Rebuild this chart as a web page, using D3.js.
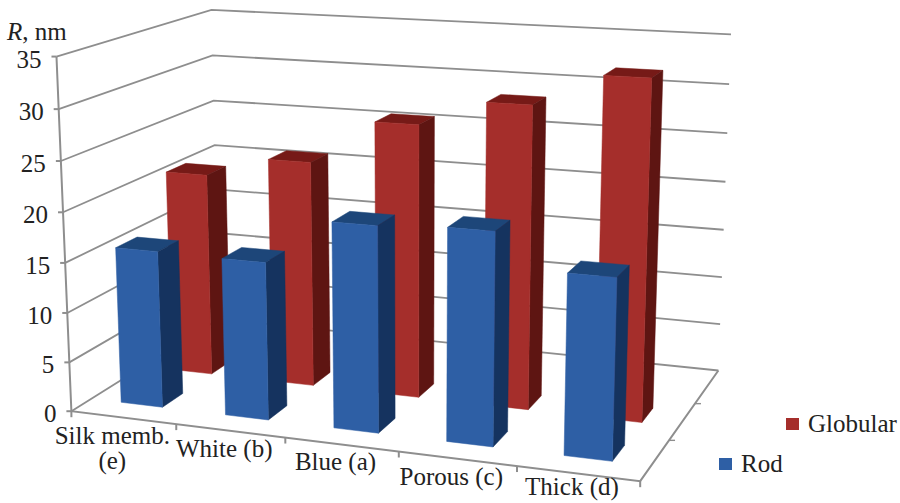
<!DOCTYPE html>
<html lang="en">
<head>
<meta charset="UTF-8">
<title>R by sample, 3D columns</title>
<script src="https://d3js.org/d3.v7.min.js"></script>
<style>
  html, body { margin: 0; background: #fff; }
  text { font-family: "Liberation Serif", serif; font-size: 25px; fill: #222; }
</style>
</head>
<body>
<svg></svg>
<script>
  const categories = ['Silk memb. (e)', 'White (b)', 'Blue (a)', 'Porous (c)', 'Thick (d)']
  const rod = [15.8, 15.7, 20.2, 20.6, 17.3]
  const globular = [21, 23.1, 27.6, 30.2, 33.4]
  const yTicks = [0, 5, 10, 15, 20, 25, 30, 35]
  // the third depth slot of the original chart is empty
  const depthSlots = ['Rod', 'Globular', '']

  const width = 900, height = 503

  const svg = d3.select('svg')
      .attr('width', width)
      .attr('height', height)
      .attr('viewBox', [0, 0, width, height])

  // chart box coordinates: u along categories, v up, w into the page
  const x = d3.scaleBand().domain(categories).range([-0.0015, 0.997]).paddingInner(0.6).paddingOuter(0.3)
  const tickX = d3.scaleBand().domain(categories).range([0, 1])
  const y = d3.scaleLinear().domain([0, 35]).range([0, 1])
  const z = d3.scaleBand().domain(depthSlots).range([0.02, 1.02]).paddingInner(0.6).paddingOuter(0.3)

  // calibration of the camera: box point -> where it lands in the picture
  const anchors = [
    [0, 0, 0, 72, 408], [0, 1, 0, 57, 57], [0, 0, 1, 219, 323], [0, 1, 1, 211, 8],
    [1, 0, 1, 717, 368], [1, 1, 1, 731, 36], [1, 0, 0, 640, 483],
    [0.2, 0, 0, 176, 423], [0.4, 0, 0, 285, 438], [0.6, 0, 0, 398, 453], [0.8, 0, 0, 516, 468],
    [1, 0, 1 / 3, 670, 439], [1, 0, 2 / 3, 697, 402]
  ]

  function solve(A, b) {
    const n = b.length
    const m = A.map((r, i) => [...r, b[i]])
    for (let i = 0; i < n; i++) {
      let p = i
      for (let k = i + 1; k < n; k++) if (Math.abs(m[k][i]) > Math.abs(m[p][i])) p = k
      ;[m[i], m[p]] = [m[p], m[i]]
      for (let k = 0; k < n; k++) {
        if (k === i) continue
        const f = m[k][i] / m[i][i]
        for (let j = i; j <= n; j++) m[k][j] -= f * m[i][j]
      }
    }
    return m.map((r, i) => r[n] / r[i])
  }

  // least squares fit of the 11 projective parameters
  const rows = [], rhs = []
  anchors.forEach(([u, v, w, px, py]) => {
    rows.push([u, v, w, 1, 0, 0, 0, 0, -px * u, -px * v, -px * w]); rhs.push(px)
    rows.push([0, 0, 0, 0, u, v, w, 1, -py * u, -py * v, -py * w]); rhs.push(py)
  })
  const ata = d3.range(11).map(i => d3.range(11).map(j => d3.sum(rows, r => r[i] * r[j])))
  const atb = d3.range(11).map(i => d3.sum(rows, (r, k) => r[i] * rhs[k]))
  const c = solve(ata, atb)

  function project(u, v, w) {
    const d = c[8] * u + c[9] * v + c[10] * w + 1
    return [(c[0] * u + c[1] * v + c[2] * w + c[3]) / d, (c[4] * u + c[5] * v + c[6] * w + c[7]) / d]
  }

  const line = d3.line()
  const gridColor = '#8e8e8e'

  // walls
  svg.append('g').selectAll('path')
      .data(yTicks)
      .join('path')
      .attr('fill', 'none')
      .attr('stroke', gridColor)
      .attr('stroke-width', 1.8)
      .attr('d', d => line([project(0, y(d), 0), project(0, y(d), 1), project(1, y(d), 1)]))

  // floor edges and axis lines
  const frame = svg.append('g').attr('fill', 'none').attr('stroke', gridColor).attr('stroke-width', 2)
  frame.append('path').attr('d', line([project(0, 1, 0), project(0, 0, 0), project(1, 0, 0), project(1, 0, 1)]))

  // value ticks
  frame.selectAll('.ytick')
      .data(yTicks)
      .join('path')
      .attr('class', 'ytick')
      .attr('d', d => {
        const p = project(0, y(d), 0)
        return line([[p[0] - 5, p[1]], p])
      })

  // category ticks
  frame.selectAll('.xtick')
      .data([0, 0.2, 0.4, 0.6, 0.8, 1])
      .join('path')
      .attr('class', 'xtick')
      .attr('d', d => {
        const p = project(d, 0, 0)
        return line([p, [p[0], p[1] + 6]])
      })

  // depth ticks
  frame.selectAll('.ztick')
      .data([1 / 3, 2 / 3])
      .join('path')
      .attr('class', 'ztick')
      .attr('stroke-width', 1.4)
      .attr('d', d => {
        const p = project(1, 0, d)
        return line([p, [p[0] + 6, p[1]]])
      })

  function drawBars(name, values, front, side, top) {
    const g = svg.append('g').attr('stroke-width', 0.5)
    const z0 = z(name), z1 = z0 + z.bandwidth()
    // right to left so nearer columns paint last
    categories.map((cat, i) => ({cat, value: values[i]})).reverse().forEach(d => {
      const u0 = x(d.cat), u1 = u0 + x.bandwidth(), v = y(d.value)
      const faces = [
        [top, [[u0, v, z0], [u1, v, z0], [u1, v, z1], [u0, v, z1]]],
        [side, [[u1, 0, z0], [u1, 0, z1], [u1, v, z1], [u1, v, z0]]],
        [front, [[u0, 0, z0], [u1, 0, z0], [u1, v, z0], [u0, v, z0]]]
      ]
      g.selectAll(null)
          .data(faces)
          .join('path')
          .attr('fill', f => f[0])
          .attr('stroke', f => f[0])
          .attr('d', f => line(f[1].map(p => project(...p))) + 'Z')
    })
  }

  drawBars('Globular', globular, '#a52e2b', '#5e1512', '#761a17')
  drawBars('Rod', rod, '#2e5fa5', '#15335f', '#1d4679')

  // value labels
  svg.append('g').selectAll('text')
      .data(yTicks)
      .join('text')
      .attr('text-anchor', 'end')
      .attr('dy', '0.36em')
      .attr('x', d => project(0, y(d), 0)[0] - 15)
      .attr('y', d => project(0, y(d), 0)[1] + 2)
      .text(d => d)

  // category labels, the first one wraps, the last one has to stay inside the picture
  const labels = svg.append('g').selectAll('text')
      .data(categories)
      .join('text')
      .attr('text-anchor', 'middle')
      .attr('transform', (d, i) => {
        const p = project(tickX(d) + tickX.bandwidth() / 2, 0, 0)
        return `translate(${p[0] - (i === 0 ? 11 : 6)},${p[1] + (i === 4 ? 21 : 26)})`
      })
  labels.filter((d, i) => i > 0).text(d => d)
  labels.filter((d, i) => i === 0).each(function (d) {
    const t = d3.select(this)
    t.append('tspan').attr('x', 0).text('Silk memb.')
    t.append('tspan').attr('x', 0).attr('dy', 25).text('(e)')
  })

  // axis title
  const title = svg.append('text').attr('x', 7).attr('y', 40)
  title.append('tspan').attr('font-style', 'italic').text('R')
  title.append('tspan').text(', nm')

  // legend
  const legendNames = ['Globular', 'Rod']
  const legendColors = ['#a52e2b', '#2e5fa5']
  const legendX = d3.scaleOrdinal().domain(legendNames).range([786, 719])
  const legendY = d3.scaleOrdinal().domain(legendNames).range([418, 458])
  const legend = svg.append('g').selectAll('g')
      .data(legendNames)
      .join('g')
      .attr('transform', d => `translate(${legendX(d)},${legendY(d)})`)
  legend.append('rect')
      .attr('width', 13)
      .attr('height', 12)
      .attr('fill', (d, i) => legendColors[i])
  legend.append('text')
      .attr('x', 22)
      .attr('y', 14)
      .text(d => d)
</script>
</body>
</html>
